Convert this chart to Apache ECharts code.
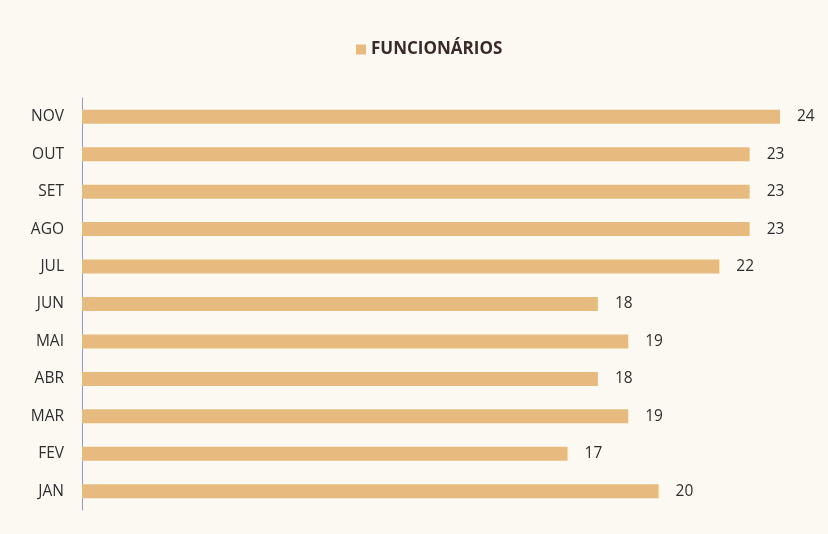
<!DOCTYPE html>
<html>
<head>
<meta charset="utf-8">
<script src="https://cdn.jsdelivr.net/npm/echarts@6/dist/echarts.min.js"></script>
<style>
  html, body { margin: 0; padding: 0; background: #ffffff; }
  #chart { width: 828px; height: 534px; }
</style>
</head>
<body>
<div id="chart"></div>
<script>
// categories, bottom to top
var months = ['JAN', 'FEV', 'MAR', 'ABR', 'MAI', 'JUN', 'JUL', 'AGO', 'SET', 'OUT', 'NOV'];
var funcionarios = [20, 17, 19, 18, 19, 18, 22, 23, 23, 23, 24];
var seriesName = 'FUNCIONÁRIOS';

var myChart = echarts.init(document.getElementById('chart'));

var option = {
  backgroundColor: '#fbf9f1',
  animation: false,
  textStyle: { fontFamily: 'Open Sans' },
  legend: {
    top: 36,
    left: 351,
    itemWidth: 10,
    itemHeight: 10,
    itemGap: 7,
    icon: 'rect',
    data: [seriesName],
    textStyle: {
      fontFamily: 'Open Sans',
      fontWeight: 'bold',
      fontSize: 17,
      color: '#3b2a2a'
    }
  },
  grid: {
    left: 82,
    right: 48,
    top: 98,
    bottom: 24
  },
  xAxis: {
    type: 'value',
    min: 1,
    max: 24,
    show: false
  },
  yAxis: {
    type: 'category',
    data: months,
    axisTick: { show: false },
    axisLine: {
      lineStyle: { color: '#9a9aae', width: 1 }
    },
    axisLabel: {
      margin: 18,
      fontSize: 15.5,
      color: '#2e2e2e'
    }
  },
  series: [{
    name: seriesName,
    type: 'bar',
    data: funcionarios,
    barWidth: 14,
    itemStyle: { color: '#e7bb80' },
    label: {
      show: true,
      position: 'right',
      distance: 17,
      fontSize: 15.5,
      color: '#2e2e2e'
    }
  }]
};

myChart.setOption(option);
</script>
</body>
</html>
